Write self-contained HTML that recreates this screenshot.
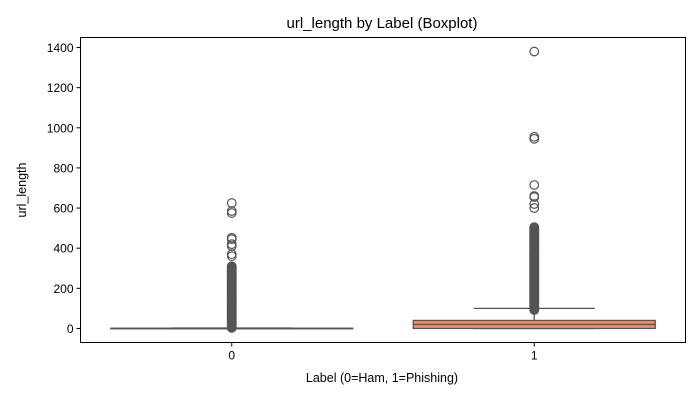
<!DOCTYPE html>
<html><head><meta charset="utf-8"><style>
body{margin:0;background:#fff;}
svg{display:block;font-family:"Liberation Sans","DejaVu Sans",sans-serif;}
</style></head><body>
<svg id="chart" width="700" height="400">
<text x="382" y="28" text-anchor="middle" font-size="15" fill="#000">url_length by Label (Boxplot)</text>
<text x="382" y="382" text-anchor="middle" font-size="12.5" fill="#000">Label (0=Ham, 1=Phishing)</text>
<text transform="translate(26,190) rotate(-90)" text-anchor="middle" font-size="12.5" fill="#000">url_length</text>
<g id="marks"></g>
<rect x="80.5" y="37.5" width="605" height="305" fill="none" stroke="#000" stroke-width="1"/>
<g id="axes"></g>
</svg>
<script>
const categories = ["0","1"];
const colors = ["#8fa0cb","#e8916f"];
const q1 = [0, 0];
const median = [0, 20];
const q3 = [1, 40];
const whiskerLow = [0, 0];
const whiskerHigh = [2, 100];
const yTicks = [0,200,400,600,800,1000,1200,1400];
const outliers0 = [3,6,9,12,15,18,21,24,27,30,33,36,39,42,45,48,51,54,57,60,63,66,69,72,75,78,81,84,87,90,93,96,99,102,105,108,111,114,117,120,123,126,129,132,135,138,141,144,147,150,153,156,159,162,165,168,171,174,177,180,183,186,189,192,195,198,201,204,207,210,213,216,219,222,225,228,231,234,237,240,243,246,249,252,255,258,261,264,267,270,273,276,279,282,285,288,291,294,297,300,303,306,310,360,370,410,420,445,452,575,585,625];
const outliers1 = [92,95,98,101,104,107,110,113,116,119,122,125,128,131,134,137,140,143,146,149,152,155,158,161,164,167,170,173,176,179,182,185,188,191,194,197,200,203,206,209,212,215,218,221,224,227,230,233,236,239,242,245,248,251,254,257,260,263,266,269,272,275,278,281,284,287,290,293,296,299,302,305,308,311,314,317,320,323,326,329,332,335,338,341,344,347,350,353,356,359,362,365,368,371,374,377,380,383,386,389,392,395,398,401,404,407,410,413,416,419,422,425,428,431,434,437,440,443,446,449,452,455,458,461,464,467,470,473,476,479,482,485,488,491,494,497,500,505,600,620,655,660,715,945,955,1380];
const outliers = [outliers0, outliers1];

const NS="http://www.w3.org/2000/svg";
const X0=80.5,X1=685.5,Y0=37.5,Y1=342.5;
const yMin=-70,yMax=1450;
function y(v){return Y1-(v-yMin)/(yMax-yMin)*(Y1-Y0);}
const band=(X1-X0)/categories.length;
function xc(i){return X0+band*(i+0.5);}
function mk(tag,attrs,parent){const e=document.createElementNS(NS,tag);for(const k in attrs)e.setAttribute(k,attrs[k]);parent.appendChild(e);return e;}
const marks=document.getElementById('marks'), axes=document.getElementById('axes');
categories.forEach((c,i)=>{
  const cx=xc(i), bw=band*0.8, ww=bw*0.5;
  const g=mk('g',{},marks);
  
  
  const wl=mk('line',{x1:cx,x2:cx,y1:y(q3[i]),y2:y(whiskerHigh[i]),stroke:'#555','stroke-width':1.3},g);
  
  
  const cap=mk('line',{x1:cx-ww/2,x2:cx+ww/2,y1:y(whiskerHigh[i]),y2:y(whiskerHigh[i]),stroke:'#555','stroke-width':1.3},g);
  
  
  const capl=mk('line',{x1:cx-ww/2,x2:cx+ww/2,y1:y(whiskerLow[i]),y2:y(whiskerLow[i]),stroke:'#555','stroke-width':1.3},g);
  
  
  const top=y(q3[i]), bot=y(q1[i]);
  const box=mk('rect',{x:cx-bw/2,y:top,width:bw,height:Math.max(bot-top,0.5),fill:colors[i],stroke:'#555','stroke-width':1.3},g);
  
  
  const med=mk('line',{x1:cx-bw/2,x2:cx+bw/2,y1:y(median[i]),y2:y(median[i]),stroke:'#555','stroke-width':1.3},g);
  
  
  outliers[i].forEach(v=>{
    const o=mk('circle',{cx:cx,cy:y(v),r:4.3,fill:'none',stroke:'#555','stroke-width':1.2},g);
    
    
  });
  mk('line',{x1:cx,x2:cx,y1:Y1,y2:Y1+4,stroke:'#000'},axes);
  const t=mk('text',{x:cx,y:Y1+17,'text-anchor':'middle','font-size':12,fill:'#000'},axes);
  t.textContent=c;
  
  
});
yTicks.forEach(v=>{
  mk('line',{x1:X0-4,x2:X0,y1:y(v),y2:y(v),stroke:'#000'},axes);
  const t=mk('text',{x:X0-7,y:y(v)+4.5,'text-anchor':'end','font-size':12,fill:'#000'},axes);
  t.textContent=v;
  
  
});
</script>
</body></html>
